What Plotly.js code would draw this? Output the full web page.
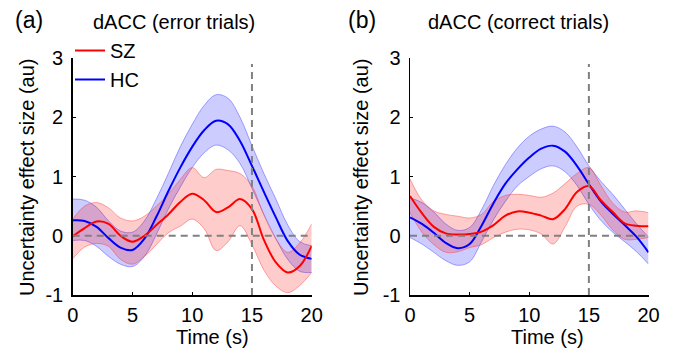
<!DOCTYPE html>
<html>
<head>
<meta charset="utf-8">
<script src="https://cdn.plot.ly/plotly-3.0.1.min.js"></script>
<style>html,body{margin:0;padding:0;background:#fff;}#chart{width:673px;height:351px;}</style>
</head>
<body>
<div id="chart"></div>
<script>
// Time axis (s)
const time = [0,1,2,3,4,5,6,7,8,9,10,11,12,13,14,15,16,17,18,19,20];

// Panel (a): dACC (error trials)
const hcErrMean = [0.26,0.25,0.15,-0.04,-0.20,-0.24,-0.05,0.32,0.75,1.15,1.50,1.78,1.94,1.88,1.60,1.18,0.74,0.31,-0.09,-0.32,-0.39];
const hcErrHi   = [0.62,0.60,0.48,0.25,0.08,0.06,0.25,0.62,1.05,1.50,1.88,2.20,2.38,2.32,2.00,1.52,1.05,0.62,0.18,-0.10,-0.17];
const hcErrLo   = [-0.08,-0.08,-0.18,-0.35,-0.48,-0.52,-0.35,0.02,0.45,0.82,1.15,1.40,1.53,1.45,1.22,0.80,0.36,-0.05,-0.40,-0.60,-0.62];
const szErrMean = [-0.01,0.13,0.24,0.20,0.00,-0.10,0.00,0.18,0.36,0.57,0.71,0.60,0.40,0.48,0.62,0.45,-0.07,-0.45,-0.62,-0.51,-0.17];
const szErrHi   = [0.28,0.50,0.56,0.47,0.30,0.25,0.33,0.50,0.70,0.95,1.15,0.98,1.12,1.10,1.05,0.84,0.35,-0.05,-0.28,-0.12,0.20];
const szErrLo   = [-0.39,-0.19,-0.13,-0.18,-0.40,-0.48,-0.35,-0.15,0.05,0.16,0.28,0.12,-0.25,-0.10,0.17,-0.15,-0.58,-0.85,-0.96,-0.84,-0.62];

// Panel (b): dACC (correct trials)
const hcCorMean = [0.31,0.20,0.05,-0.12,-0.21,-0.14,0.17,0.55,0.88,1.12,1.32,1.47,1.52,1.42,1.18,0.87,0.58,0.37,0.18,-0.02,-0.28];
const hcCorHi   = [0.64,0.56,0.40,0.20,0.09,0.14,0.44,0.85,1.20,1.48,1.68,1.80,1.85,1.75,1.50,1.18,0.92,0.70,0.45,0.20,-0.02];
const hcCorLo   = [-0.03,-0.14,-0.28,-0.42,-0.50,-0.44,-0.10,0.27,0.58,0.84,1.00,1.13,1.18,1.08,0.85,0.53,0.26,0.06,-0.10,-0.27,-0.48];
const szCorMean = [0.67,0.38,0.15,0.04,0.02,0.03,0.07,0.18,0.34,0.41,0.39,0.34,0.28,0.45,0.74,0.84,0.60,0.40,0.21,0.17,0.16];
const szCorHi   = [0.96,0.60,0.42,0.36,0.33,0.30,0.36,0.58,0.68,0.70,0.68,0.65,0.72,0.88,1.05,1.15,0.85,0.55,0.40,0.42,0.39];
const szCorLo   = [0.39,0.06,-0.15,-0.28,-0.27,-0.20,-0.15,-0.03,0.06,0.11,0.10,0.03,-0.14,0.15,0.50,0.53,0.35,0.10,-0.06,-0.06,-0.03];

const seriesNames = ['SZ','HC'];
const panelTitles = ['dACC (error trials)','dACC (correct trials)'];
const panelLetters = ['(a)','(b)'];
const yTickVals = [-1,0,1,2,3];
const yTickText = ['-1','0','1','2','3'];
const xTickVals = [0,5,10,15,20];
const xTickText = ['0','5','10','15','20'];
const xTitle = 'Time (s)';
const yTitle = 'Uncertainty effect size (au)';
const stimOffset = 15;

const FONT = 'Liberation Sans, Arial, Helvetica, sans-serif';
const FS = 20;
const RED = '#ff0000', BLUE = '#0000ff';
const redFill = 'rgba(255,0,0,0.2)', blueFill = 'rgba(0,0,255,0.2)';
const redEdge = 'rgba(255,60,60,0.45)', blueEdge = 'rgba(60,60,255,0.45)';

function band(lo, hi, fill, edge, xa, ya) {
  return [
    {x: time, y: lo, type:'scatter', mode:'lines', line:{color:edge, width:1, shape:'spline'}, showlegend:false, xaxis:xa, yaxis:ya, hoverinfo:'skip'},
    {x: time, y: hi, type:'scatter', mode:'lines', fill:'tonexty', fillcolor:fill, line:{color:edge, width:1, shape:'spline'}, showlegend:false, xaxis:xa, yaxis:ya, hoverinfo:'skip'}
  ];
}
function meanLine(y, color, name, xa, ya, showleg) {
  return {x: time, y: y, type:'scatter', mode:'lines', name:name, line:{color:color, width:2, shape:'spline'}, showlegend:showleg, xaxis:xa, yaxis:ya};
}

const data = [].concat(
  band(hcErrLo, hcErrHi, blueFill, blueEdge, 'x', 'y'),
  band(szErrLo, szErrHi, redFill, redEdge, 'x', 'y'),
  [meanLine(hcErrMean, BLUE, seriesNames[1], 'x', 'y', true),
   meanLine(szErrMean, RED, seriesNames[0], 'x', 'y', true)],
  band(hcCorLo, hcCorHi, blueFill, blueEdge, 'x2', 'y2'),
  band(szCorLo, szCorHi, redFill, redEdge, 'x2', 'y2'),
  [meanLine(hcCorMean, BLUE, seriesNames[1], 'x2', 'y2', false),
   meanLine(szCorMean, RED, seriesNames[0], 'x2', 'y2', false)]
);
data[4].legendrank = 2; data[5].legendrank = 1;

const W = 673, H = 351;
const px = v => v / W, py = v => 1 - v / H;

function xAxis(domain, anchor) {
  return {domain: domain, anchor: anchor, range:[0,20], showline:true, linecolor:'#000', linewidth:1.5,
    ticks:'inside', ticklen:3, tickwidth:1, tickcolor:'#000', tickvals:xTickVals, ticktext:xTickText,
    showgrid:false, zeroline:false, tickfont:{family:FONT, size:FS, color:'#000'}, ticklabelstandoff:1, fixedrange:true};
}
function yAxis(anchor) {
  return {domain:[(H-295)/H, (H-58)/H], anchor: anchor, range:[-1,3], showline:true, linecolor:'#000', linewidth:1.5,
    ticks:'inside', ticklen:3, tickwidth:1, tickcolor:'#000', tickvals:yTickVals, ticktext:yTickText,
    showgrid:false, zeroline:false, tickfont:{family:FONT, size:FS, color:'#000'}, ticklabelstandoff:4, fixedrange:true};
}

const dash = {color:'#808080', width:2, dash:'7px,5px'};
const shapes = [
  {type:'line', xref:'x', yref:'y', x0:0, x1:20, y0:0, y1:0, line:dash, layer:'above'},
  {type:'line', xref:'x', yref:'y', x0:stimOffset, x1:stimOffset, y0:-1, y1:2.9, line:dash, layer:'above'},
  {type:'line', xref:'x2', yref:'y2', x0:0, x1:20, y0:0, y1:0, line:dash, layer:'above'},
  {type:'line', xref:'x2', yref:'y2', x0:stimOffset, x1:stimOffset, y0:-1, y1:2.9, line:dash, layer:'above'}
];

const ann = (text, x, y, size, angle) => ({text:text, xref:'paper', yref:'paper', x:px(x), y:py(y),
  xanchor:'center', yanchor:'middle', showarrow:false, textangle:angle||0, font:{family:FONT, size:size, color:'#000'}});
const annotations = [
  ann(panelLetters[0], 29, 20, 23), ann(panelTitles[0], 174, 22, FS),
  ann(panelLetters[1], 362, 20, 23), ann(panelTitles[1], 518, 22, FS),
  ann(yTitle, 27, 177, FS, -90), ann(yTitle, 361, 177, FS, -90),
  ann(xTitle, 212, 337, FS), ann(xTitle, 547, 337, FS)
];

const layout = {
  width:W, height:H, margin:{l:0, r:0, t:0, b:0}, paper_bgcolor:'#fff', plot_bgcolor:'rgba(0,0,0,0)',
  font:{family:FONT, color:'#000'},
  xaxis: xAxis([72.7/W, 311.7/W], 'y'),
  yaxis: yAxis('x'),
  xaxis2: xAxis([410/W, 648.5/W], 'y2'),
  yaxis2: yAxis('x2'),
  shapes: shapes,
  annotations: annotations,
  showlegend:true,
  legend:{x:px(70), y:py(31), xanchor:'left', yanchor:'top', bgcolor:'rgba(0,0,0,0)', borderwidth:0,
    font:{family:FONT, size:FS, color:'#000'}, itemwidth:30, tracegroupgap:0, traceorder:'normal'},
  hovermode:false
};

Plotly.newPlot('chart', data, layout, {staticPlot:true, displayModeBar:false});
</script>
</body>
</html>
